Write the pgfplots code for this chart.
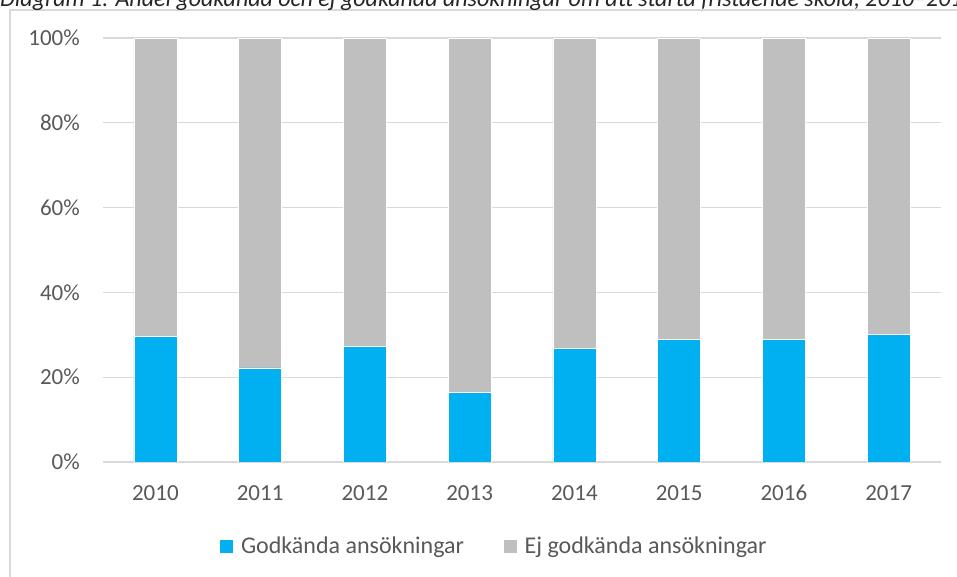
\documentclass[border=0pt]{standalone}
\usepackage{pgfplots}
\pgfplotsset{compat=1.18}
\usepackage{fontspec}
\setmainfont{Carlito}
\definecolor{blueA}{HTML}{00B0F0}
\definecolor{grayB}{HTML}{BFBFBF}
\definecolor{gridc}{HTML}{D9D9D9}
\definecolor{txt}{HTML}{595959}
\begin{document}
\begin{tikzpicture}
\useasboundingbox (0pt,0pt) rectangle (957pt,577pt);
\begin{scope}
\clip (0pt,0pt) rectangle (957pt,577pt);
\fill[white] (0pt,0pt) rectangle (957pt,577pt);
\draw[gridc, line width=1.5pt] (10pt,-5pt) -- (10pt,567pt) -- (970pt,567pt);
\node[anchor=base west, inner sep=0pt, font=\fontsize{24}{27}\selectfont\itshape, text=black!85] at (0pt,570pt) {Diagram 1. Andel godkända och ej godkända ansökningar om att starta fristående skola, 2010–2017};
\end{scope}
\begin{axis}[
  at={(103pt,115pt)}, anchor=south west,
  scale only axis, width=838pt, height=424pt,
  ybar stacked, bar width=43pt,
  xmin=-0.5, xmax=7.5, ymin=0, ymax=100,
  xtick={0,...,7},
  xticklabels={2010,2011,2012,2013,2014,2015,2016,2017},
  ytick={0,20,...,100},
  yticklabel={\pgfmathprintnumber{\tick}\%},
  /pgf/number format/assume math mode=true,
  major tick length=0pt,
  ymajorgrids, grid style={gridc, line width=1.3pt},
  axis x line*=bottom, axis y line*=left,
  x axis line style={gridc, line width=1.5pt, -},
  y axis line style={draw=none},
  tick label style={font=\fontsize{23}{26}\selectfont, text=txt},
  yticklabel style={inner sep=0pt, anchor=east, xshift=-23pt},
  xticklabel style={inner sep=0pt, anchor=north, yshift=-23pt},
  legend style={at={(0.4666,-0.198)}, anchor=center, draw=none, fill=none,
    legend columns=2, font=\fontsize{24}{27}\selectfont, text=txt,
    /tikz/every odd column/.append style={column sep=5pt},
    /tikz/every even column/.append style={column sep=37pt}},
  legend image code/.code={\fill[#1] (0pt,-7pt) rectangle (14pt,7pt);},
]
\addplot[fill=blueA, draw=white, line width=0.6pt] coordinates {(0,29.6) (1,22.2) (2,27.2) (3,16.5) (4,26.7) (5,28.9) (6,28.9) (7,30.1)};
\addplot[fill=grayB, draw=white, line width=0.6pt] coordinates {(0,70.4) (1,77.8) (2,72.8) (3,83.5) (4,73.3) (5,71.1) (6,71.1) (7,69.9)};
\legend{Godkända ansökningar, Ej godkända ansökningar}
\end{axis}
\end{tikzpicture}
\end{document}
